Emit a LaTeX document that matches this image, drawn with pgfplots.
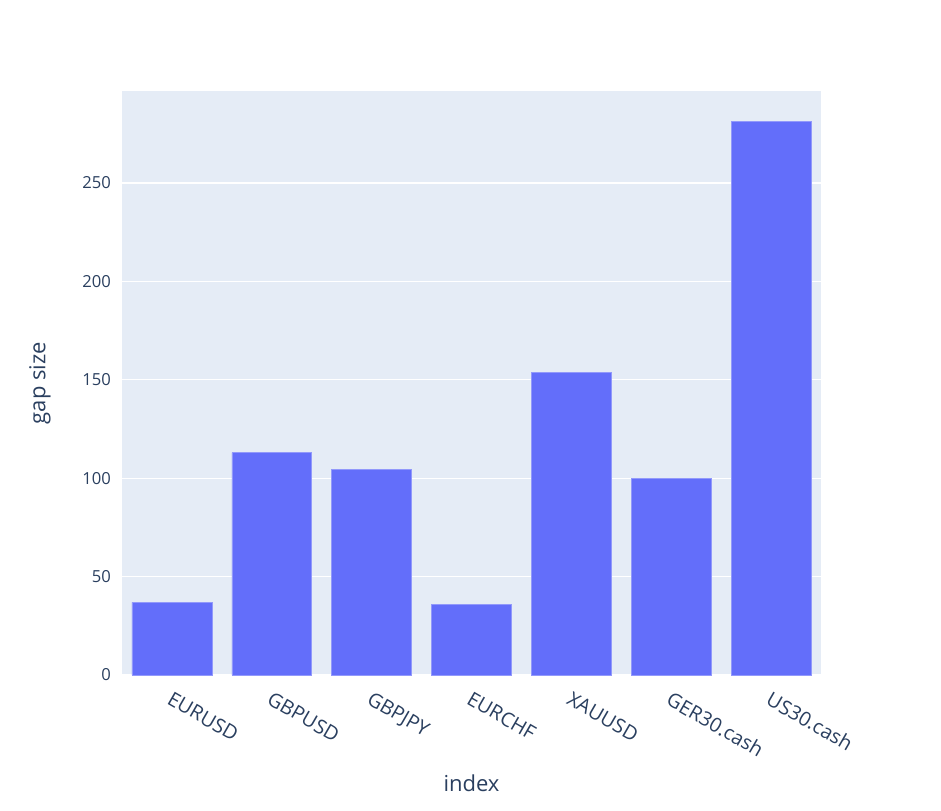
\documentclass[border=0pt]{standalone}
\usepackage{fontspec}
\setmainfont{Open Sans}
\usepackage{pgfplots}
\pgfplotsset{compat=1.18}
\definecolor{bgc}{HTML}{E5ECF6}
\definecolor{barc}{HTML}{636EFA}
\definecolor{txtc}{HTML}{2A3F5F}
\begin{document}
\begin{tikzpicture}
\begin{axis}[
  scale only axis,
  width=349.5pt, height=292pt,
  xmin=-0.5, xmax=6.5,
  ymin=0, ymax=296.7,
  axis background/.style={fill=bgc},
  axis line style={draw=none},
  major tick length=0pt,
  xtick={0,1,2,3,4,5,6},
  xticklabels={EURUSD,GBPUSD,GBPJPY,EURCHF,XAUUSD,GER30.cash,US30.cash},
  ytick={0,50,100,150,200,250},
  ymajorgrids,
  grid style={white, line width=0.6pt},
  /pgf/number format/assume math mode=true,
  tick label style={font=\fontsize{8.3}{10}\selectfont, text=txtc},
  xticklabel style={font=\fontsize{9.9}{11}\selectfont, rotate=-30, anchor=north west, xshift=1pt, yshift=-3pt},
  yticklabel style={xshift=-2pt},
  xlabel={index},
  ylabel={gap size},
  label style={font=\fontsize{11}{13}\selectfont, text=txtc},
  xlabel style={at={(axis description cs:0.5,0)}, anchor=center, yshift=-54pt},
  ylabel style={at={(axis description cs:0,0.5)}, anchor=center, xshift=0pt, yshift=41pt},
  ybar, bar width=0.8,
  clip=false,
]
\addplot[fill=barc, draw=barc!70!white, line width=0.3pt] coordinates {
  (0,36.9) (1,113.0) (2,104.6) (3,35.8) (4,153.6) (5,99.7) (6,281.4)
};
\end{axis}
\pgfresetboundingbox
\path (current axis.south west) ++(-61pt,-67.5pt) coordinate (bl);
\path (current axis.north east) ++(60pt,45.5pt) coordinate (tr);
\path[use as bounding box] (bl) rectangle (tr);
\end{tikzpicture}
\end{document}
